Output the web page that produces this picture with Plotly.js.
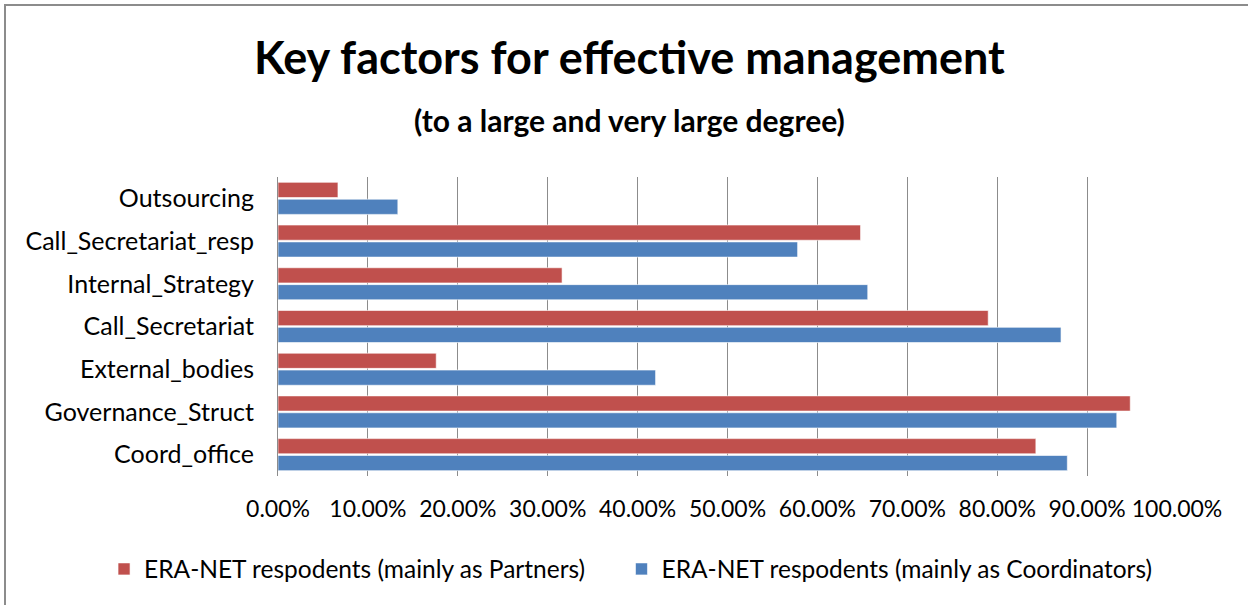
<!DOCTYPE html>
<html>
<head>
<meta charset="utf-8">
<script src="https://cdn.plot.ly/plotly-3.0.1.min.js"></script>
<style>
  html, body { margin: 0; padding: 0; background: #fff; }
  #wrap { position: relative; width: 1248px; height: 605px; }
  #chart { width: 1248px; height: 605px; }
  #frame { position: absolute; left: 4px; top: 4px; width: 1260px; height: 620px;
           border-left: 2px solid #8c8c8c; border-top: 2px solid #8c8c8c; pointer-events: none; }
</style>
</head>
<body>
<div id="wrap">
  <div id="chart"></div>
  <div id="frame"></div>
</div>
<script>
const categories = ["Outsourcing", "Call_Secretariat_resp", "Internal_Strategy", "Call_Secretariat",
                    "External_bodies", "Governance_Struct", "Coord_office"];
const partners = [0.0667, 0.648, 0.316, 0.790, 0.176, 0.948, 0.843];
const coordinators = [0.1333, 0.578, 0.656, 0.871, 0.420, 0.933, 0.878];
const seriesNames = ["ERA-NET respodents (mainly as Partners)", "ERA-NET respodents (mainly as Coordinators)"];
const tickVals = [0, 0.1, 0.2, 0.3, 0.4, 0.5, 0.6, 0.7, 0.8, 0.9, 1.0];
const tickText = ["0.00%", "10.00%", "20.00%", "30.00%", "40.00%", "50.00%", "60.00%", "70.00%", "80.00%", "90.00%", "100.00%"];

const FONT = "Lato, 'Open Sans', sans-serif";
const PAD = "\u00a0".repeat(5);

const traces = [
  { type: "bar", orientation: "h", name: seriesNames[0] + PAD, y: categories, x: partners,
    marker: { color: "#C0504D", line: { color: "rgba(255,255,255,0.6)", width: 1 } }, hoverinfo: "x+y" },
  { type: "bar", orientation: "h", name: seriesNames[1], y: categories, x: coordinators,
    marker: { color: "#4F81BD", line: { color: "rgba(255,255,255,0.6)", width: 1 } }, hoverinfo: "x+y" }
];

const layout = {
  width: 1248, height: 605,
  margin: { l: 278, r: 71, t: 177, b: 129 },
  paper_bgcolor: "#fff", plot_bgcolor: "#fff",
  font: { family: FONT, color: "#000", size: 20 },
  barmode: "group", bargap: 0.21, bargroupgap: 0.1,
  showlegend: true,
  legend: { orientation: "h", x: -0.1935, xanchor: "left", xref: "paper",
            y: -0.311, yanchor: "middle", yref: "paper",
            font: { family: FONT, size: 24.5, color: "#000" } },
  xaxis: { range: [0, 1], tickvals: tickVals, ticktext: tickText, showgrid: true,
           gridcolor: "#8c8c8c", gridwidth: 1, zeroline: false, showline: false, ticks: "",
           ticklabelstandoff: 17,
           tickfont: { family: FONT, size: 23, color: "#000" }, fixedrange: true },
  yaxis: { type: "category", categoryorder: "array", categoryarray: categories, autorange: "reversed",
           showgrid: false, zeroline: false, showline: true, linecolor: "#8c8c8c", linewidth: 1,
           ticks: "", ticklabelstandoff: 18, tickfont: { family: FONT, size: 25, color: "#000" }, fixedrange: true },
  annotations: [
    { text: "<b>Key factors for effective management</b>", xref: "paper", yref: "paper",
      x: (629 - 278) / (1177 - 278), y: 1.40, xanchor: "center", yanchor: "middle",
      showarrow: false, font: { family: FONT, size: 45, color: "#000" } },
    { text: "<b>(to a large and very large degree)</b>", xref: "paper", yref: "paper",
      x: (629 - 278) / (1177 - 278), y: 1.19, xanchor: "center", yanchor: "middle",
      showarrow: false, font: { family: FONT, size: 30, color: "#000" } }
  ]
};

Plotly.newPlot("chart", traces, layout, { displayModeBar: false, staticPlot: true });
</script>
</body>
</html>
